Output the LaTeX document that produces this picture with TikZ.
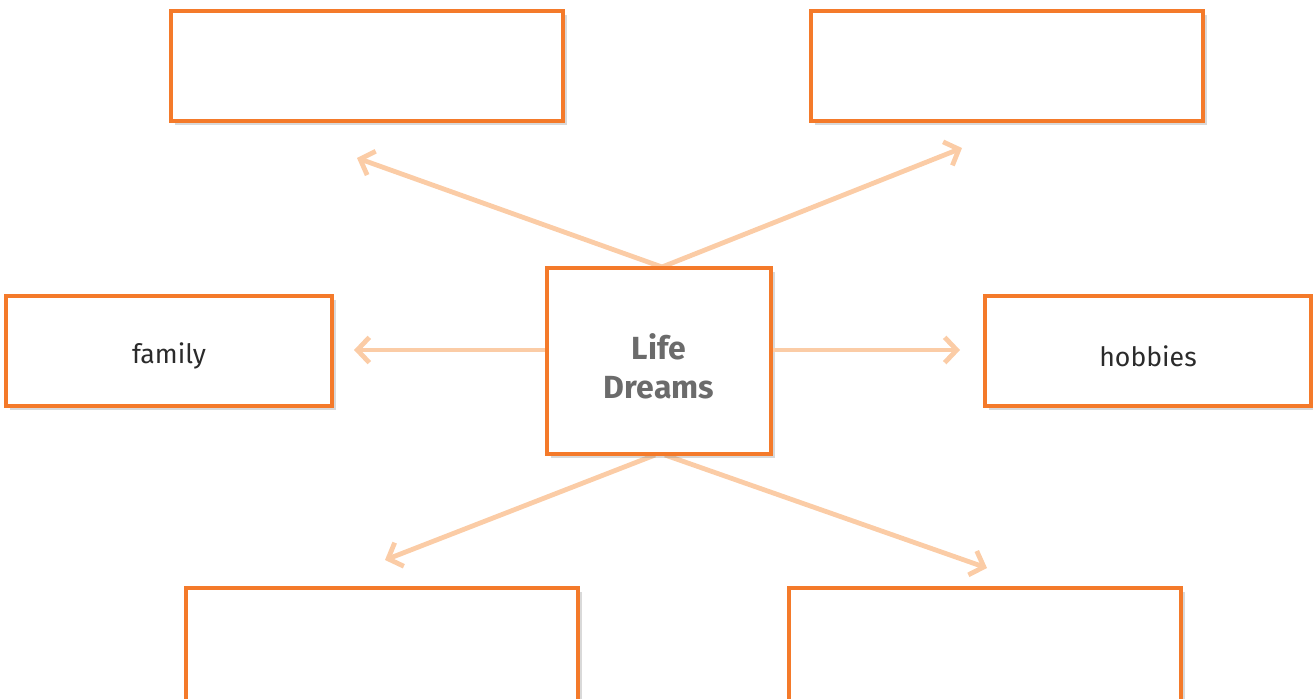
\documentclass[tikz,border=0pt]{standalone}
\usepackage{fontspec}
\setmainfont{Fira Sans}
\usetikzlibrary{arrows.meta,shadows}
\definecolor{boxorange}{HTML}{F47A2A}
\definecolor{arrowpeach}{HTML}{FBCCA6}
\definecolor{titlegray}{HTML}{6B6B6B}
\definecolor{labeldark}{HTML}{2B2B2B}
\tikzset{
  box/.style={draw=boxorange, line width=2.8pt, fill=white, rectangle,
    minimum width=#1, inner sep=0pt,
    drop shadow={opacity=0.3, shadow xshift=3pt, shadow yshift=-3pt}},
  link/.style={draw=arrowpeach, line width=3.6pt,
    -{Straight Barb[length=9pt,width=19pt,line width=3.6pt]}},
  lbl/.style={text=labeldark, font=\fontsize{20}{24}\selectfont},
}
\begin{document}
\begin{tikzpicture}[x=0.75pt,y=-0.75pt]
\useasboundingbox (0,0) rectangle (1313,699);
\clip (0,0) rectangle (1313,699);
\coordinate (ctop) at (662,267);
\coordinate (cbotl) at (655,455);
\coordinate (cbotr) at (665,455);
\coordinate (eTL) at (357,158);
\coordinate (eTR) at (962,148);
\coordinate (eL) at (354,350);
\coordinate (eR) at (960,350);
\coordinate (eBL) at (385,560);
\coordinate (eBR) at (987,568);
\node[box=392*0.75pt, minimum height=110*0.75pt] (tl) at (367,66) {};
\node[box=392*0.75pt, minimum height=110*0.75pt] (tr) at (1007,66) {};
\node[box=326*0.75pt, minimum height=110*0.75pt] (fam) at (169,351) {};
\node[lbl] (famtext) at ([yshift=-4pt]fam.center) {family};
\node[box=326*0.75pt, minimum height=110*0.75pt] (hob) at (1148,351) {};
\node[lbl] (hobtext) at ([yshift=-4pt]hob.center) {hobbies};
\node[box=392*0.75pt, minimum height=118*0.75pt] (bl) at (382,647) {};
\node[box=392*0.75pt, minimum height=118*0.75pt] (br) at (985,647) {};
\draw[link] (ctop) -- (eTL);
\draw[link] (ctop) -- (eTR);
\draw[link] (cbotl) -- (eBL);
\draw[link] (cbotr) -- (eBR);
\node[box=224*0.75pt, minimum height=186*0.75pt] (life) at (659,361) {};
\node[text=titlegray, font=\fontsize{24}{29.5}\selectfont\bfseries, align=center]
  (lifetext) at ([yshift=-4pt]life.center) {Life\\Dreams};
\draw[link] (life.west |- eL) -- (eL);
\draw[link] (life.east |- eR) -- (eR);
\end{tikzpicture}
\end{document}
